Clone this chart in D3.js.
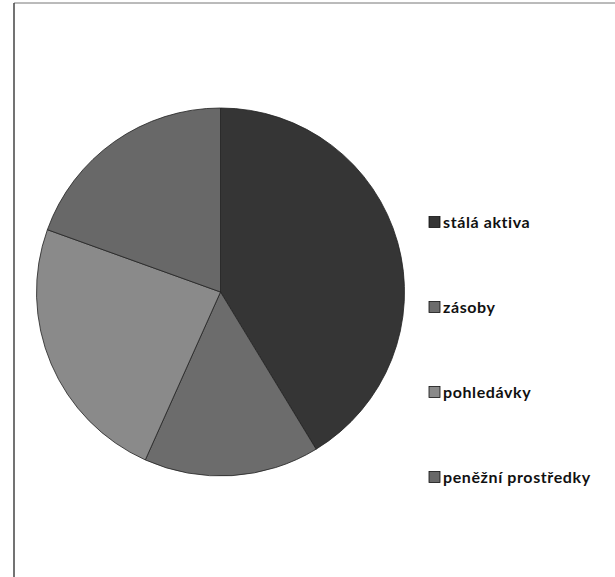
<!DOCTYPE html>
<html>
<head>
<meta charset="utf-8">
<script src="https://cdn.jsdelivr.net/npm/d3@7"></script>
<style>
  html, body { margin: 0; padding: 0; background: #fff; }
  svg { display: block; }
</style>
</head>
<body>
<svg id="chart" width="615" height="577"></svg>
<script>
const categories = ["stálá aktiva", "zásoby", "pohledávky", "peněžní prostředky"];
const values = [41.3, 15.4, 23.8, 19.5];
const colors = ["#353535", "#6c6c6c", "#8a8a8a", "#686868"];

const svg = d3.select("#chart");
const W = 615, H = 577;

// frame (scanned: only top and left edges visible)
svg.append("line").attr("x1", 14).attr("y1", 3).attr("x2", W).attr("y2", 3)
  .attr("stroke", "#777").attr("stroke-width", 1);
svg.append("line").attr("x1", 14).attr("y1", 3).attr("x2", 14).attr("y2", H)
  .attr("stroke", "#444").attr("stroke-width", 1.5);

const cx = 220.5, cy = 292, r = 184;
const pie = d3.pie().sort(null).value(d => d.v);
const arc = d3.arc().innerRadius(0).outerRadius(r);
const data = categories.map((c, i) => ({ c, v: values[i], col: colors[i] }));

const g = svg.append("g").attr("transform", `translate(${cx},${cy})`);
g.selectAll("path").data(pie(data)).join("path")
  .attr("d", arc)
  .attr("fill", d => d.data.col)
  .attr("stroke", "#222")
  .attr("stroke-width", 0.8);

// legend
const legY = d3.scalePoint().domain(categories).range([222, 477]);
const leg = svg.append("g");
const items = leg.selectAll("g").data(data).join("g")
  .attr("transform", d => `translate(429,${legY(d.c)})`);
items.append("rect").attr("x", 0).attr("y", -5.5).attr("width", 11).attr("height", 11)
  .attr("fill", d => d.col).attr("stroke", "#111").attr("stroke-width", 0.8);
items.append("text").attr("x", 14).attr("y", 0).attr("dy", "0.36em")
  .attr("font-family", "Lato, 'Open Sans', sans-serif")
  .attr("font-size", 16).attr("font-weight", "bold").attr("letter-spacing", 0.6)
  .attr("fill", "#111")
  .text(d => d.c);
</script>
</body>
</html>
